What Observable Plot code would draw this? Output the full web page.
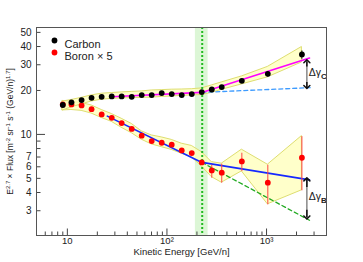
<!DOCTYPE html>
<html>
<head>
<meta charset="utf-8">
<script src="https://cdn.jsdelivr.net/npm/d3@7"></script>
<script src="https://cdn.jsdelivr.net/npm/@observablehq/plot@0.6"></script>
<style>
  html, body { margin: 0; padding: 0; background: #fff; }
  #chart svg { display: block; }
</style>
</head>
<body>
<div id="chart"></div>
<script>
// ---- data ----
const energy = [9.0, 11.0, 13.9, 17.5, 22.1, 27.9, 35.1, 44.3, 55.8, 70.3, 88.6, 111.7, 140.8, 177.5, 223.7, 282, 355, 565, 1030, 2265];
const carbon = [15.9, 16.6, 17.2, 17.8, 18.1, 18.2, 18.2, 18.1, 18.6, 18.6, 19.2, 18.9, 18.6, 18.9, 19.5, 20.3, 21.1, 23.3, 26.0, 35.3];
const carbonBandHi = [16.8, 17.2, 17.8, 18.5, 19.0, 19.2, 19.4, 19.55, 19.7, 20.0, 20.1, 20.25, 20.3, 20.4, 20.65, 21.65, 22.7, 24.95, 29.0, 39.7];
const carbonBandLo = [14.6, 15.3, 16.05, 16.8, 17.3, 17.5, 17.65, 17.7, 17.8, 17.85, 18.05, 18.2, 18.35, 18.5, 18.6, 19.25, 20.2, 22.0, 24.6, 31.1];
const boronX5 = [16.05, 16.05, 15.8, 14.9, 13.7, 13.0, 11.95, 10.9, 9.8, 9.0, 8.77, 8.5, 7.77, 7.45, 6.43, 5.67, 5.47, 6.53, 4.67, 6.92];
const boronBandHi = [16.96, 16.7, 16.4, 15.8, 14.7, 13.8, 12.8, 11.8, 10.5, 9.84, 9.54, 9.17, 8.64, 8.34, 7.56, 6.46, 6.30, 7.86, 6.20, 9.74];
const boronBandLo = [14.6, 14.7, 14.5, 13.9, 12.97, 12.2, 11.1, 10.2, 9.2, 8.54, 8.18, 7.83, 7.38, 6.96, 6.04, 5.10, 4.67, 5.58, 3.32, 4.14];

const carbonErrEnergy = [1030, 2265];
const carbonErrLo = [24.9, 33.0];
const carbonErrHi = [27.1, 37.6];
const boronErrEnergy = [282, 355, 565, 1030, 2265];
const boronErrLo = [5.05, 4.67, 5.61, 3.32, 4.14];
const boronErrHi = [6.20, 6.30, 7.49, 6.20, 9.73];

const fitCarbonE = [27.9, 224, 2700];
const fitCarbonY = [18.1, 19.4, 33.4];
const extCarbonE = [224, 2740];
const extCarbonY = [19.4, 20.9];
const fitBoronE = [25.2, 224, 2700];
const fitBoronY = [13.35, 6.43, 4.88];
const extBoronE = [224, 2700];
const extBoronY = [6.43, 2.58];

const breakEnergy = 226;
const breakBand = [193, 259];

const deltaE = 2540;
const deltaC = [31.7, 21.1];
const deltaB = [4.92, 2.70];

const yLabelTicks = [3, 4, 5, 6, 7, 10, 20, 30, 40, 50];
const yMinorTicks = [3, 4, 5, 6, 7, 8, 9, 20, 30, 40, 50];
const yMajorTicks = [10];
const xMajorTicks = [10, 100, 1000];
const xMinorTicks = [6, 7, 8, 9, 20, 30, 40, 50, 60, 70, 80, 90, 200, 300, 400, 500, 600, 700, 800, 900, 2000, 3000];
const xTickText = ["10", "10²", "10³"];
const legendNames = ["Carbon", "Boron × 5"];
const legendColors = ["#000000", "#ff0000"];
const yTitleParts = [["E", 0], ["2.7", 1], [" × Flux [m", 0], ["-2", 1], [" sr", 0], ["-1", 1], [" s", 0], ["-1", 1], [" (GeV/n)", 0], ["1.7", 1], ["]", 0]];
const xTitle = "Kinetic Energy [GeV/n]";

// ---- tables ----
const pts = energy.map((e, i) => ({e, c: carbon[i], b: boronX5[i], cLo: carbonBandLo[i], cHi: carbonBandHi[i], bLo: boronBandLo[i], bHi: boronBandHi[i]}));
const cErr = carbonErrEnergy.map((e, i) => ({e, lo: carbonErrLo[i], hi: carbonErrHi[i]}));
const bErr = boronErrEnergy.map((e, i) => ({e, lo: boronErrLo[i], hi: boronErrHi[i]}));
const toLine = (xs, ys) => xs.map((x, i) => ({x, y: ys[i]}));
const arrows = [{x: deltaE, y1: deltaC[0], y2: deltaC[1], label: "C"}, {x: deltaE, y1: deltaB[0], y2: deltaB[1], label: "B"}];
// short black segments at each end of the double arrows, carrying the heads
const heads = arrows.flatMap(a => [
  {x: a.x, from: a.y1 * Math.pow(a.y2 / a.y1, 0.2), to: a.y1},
  {x: a.x, from: a.y2 * Math.pow(a.y1 / a.y2, 0.2), to: a.y2}
]);
const xTicksT = xMajorTicks.map((v, i) => ({v, t: xTickText[i]}));
const yTitle = yTitleParts.map(p => p[0]).join("");

const W = 363, H = 262;
const mL = 36, mR = 37, mT = 27, mB = 27;
const pw = W - mL - mR, ph = H - mT - mB;
const font = "Liberation Sans, Arial, Helvetica, sans-serif";

const legendMarks = legendNames.flatMap((n, i) => [
  Plot.dot([n], {x: null, y: null, frameAnchor: "top-left", dx: 18, dy: 13 + 12 * i, r: 2.9, fill: legendColors[i]}),
  Plot.text([n], {frameAnchor: "top-left", dx: 28, dy: 13 + 12 * i, text: d => d, textAnchor: "start", fontSize: 11, fill: "#222"})
]);

const chart = Plot.plot({
  width: W, height: H,
  marginLeft: mL, marginRight: mR, marginTop: mT, marginBottom: mB,
  style: {fontFamily: font, fontSize: "10px", color: "#222", background: "#fff"},
  x: {type: "log", domain: [4.9, 4000], axis: null},
  y: {type: "log", domain: [2.03, 54], axis: null},
  marks: [
    Plot.rect([breakBand], {x1: d => d[0], x2: d => d[1], fill: "#cdf2c4", fillOpacity: 0.7}),
    Plot.areaY(pts, {x: "e", y1: "bLo", y2: "bHi", fill: "#ffffb8", fillOpacity: 0.75, stroke: "#dede70", strokeWidth: 1}),
    Plot.areaY(pts, {x: "e", y1: "cLo", y2: "cHi", fill: "#ffffb8", fillOpacity: 0.75, stroke: "#dede70", strokeWidth: 1}),
    Plot.ruleX([breakEnergy], {x: d => d, stroke: "#22bb22", strokeWidth: 2, strokeDasharray: "2,2"}),
    Plot.line(toLine(extCarbonE, extCarbonY), {x: "x", y: "y", stroke: "#3d9bff", strokeWidth: 1.3, strokeDasharray: "4,3"}),
    Plot.line(toLine(extBoronE, extBoronY), {x: "x", y: "y", stroke: "#22aa22", strokeWidth: 1.3, strokeDasharray: "4,3"}),
    Plot.line(toLine(fitCarbonE, fitCarbonY), {x: "x", y: "y", stroke: "#ff00ff", strokeWidth: 1.6}),
    Plot.line(toLine(fitBoronE, fitBoronY), {x: "x", y: "y", stroke: "#1428ff", strokeWidth: 1.6}),
    Plot.link(bErr, {x1: "e", x2: "e", y1: "lo", y2: "hi", stroke: "#ff4444", strokeWidth: 1}),
    Plot.link(cErr, {x1: "e", x2: "e", y1: "lo", y2: "hi", stroke: "#000", strokeWidth: 1}),
    Plot.dot(pts, {x: "e", y: "b", r: 2.9, fill: "#ff0000"}),
    Plot.dot(pts, {x: "e", y: "c", r: 2.9, fill: "#000"}),
    Plot.link(arrows, {x1: "x", x2: "x", y1: "y1", y2: "y2", stroke: "#888", strokeWidth: 1.5}),
    Plot.link(heads, {x1: "x", x2: "x", y1: "from", y2: "to", stroke: "#111", strokeWidth: 1.5, markerEnd: "arrow"}),
    Plot.text(arrows, {x: "x", y: d => Math.sqrt(d.y1 * d.y2), text: d => "Δγ" + d.label, textAnchor: "start", dx: 2, dy: -2, fontSize: 10.5, fill: "#222"}),
    ...legendMarks,
    // ticks (inside)
    Plot.ruleY(yMinorTicks, {y: d => d, insetRight: pw - 4.5, stroke: "#444"}),
    Plot.ruleY(yMajorTicks, {y: d => d, insetRight: pw - 9, stroke: "#444"}),
    Plot.ruleX(xMinorTicks, {x: d => d, insetTop: ph - 3.5, stroke: "#444"}),
    Plot.ruleX(xMajorTicks, {x: d => d, insetTop: ph - 6.5, stroke: "#444"}),
    // tick labels
    Plot.text(yLabelTicks, {y: d => d, frameAnchor: "left", dx: -5, textAnchor: "end", text: d => String(d), fontSize: 10, fill: "#222"}),
    Plot.text(xTicksT, {x: "v", frameAnchor: "bottom", dy: 8.5, text: "t", fontSize: 9.5, fill: "#222"}),
    // axis titles
    Plot.text([yTitle], {frameAnchor: "left", dx: -26, rotate: -90, textAnchor: "middle", text: d => d, fontSize: 8.5, fill: "#222"}),
    Plot.text([xTitle], {frameAnchor: "bottom", dy: 19, textAnchor: "middle", text: d => d, fontSize: 9.5, fill: "#222"}),
    Plot.frame({stroke: "#555"})
  ]
});
document.getElementById("chart").appendChild(chart);

// rich text: superscripts in y title, subscripts in delta-gamma labels
d3.select(chart).selectAll("text").each(function () {
  const el = d3.select(this);
  const s = this.textContent;
  if (s === yTitle) {
    el.text(null);
    let prevSup = 0;
    yTitleParts.forEach(([t, sup]) => {
      const ts = el.append("tspan").text(t);
      if (sup) ts.attr("font-size", 6);
      if (sup && !prevSup) ts.attr("dy", "-3.5");
      else if (!sup && prevSup) ts.attr("dy", "3.5");
      prevSup = sup;
    });
  } else if (s.startsWith("Δγ") && s.length === 3) {
    el.text(null);
    el.append("tspan").text("Δγ");
    el.append("tspan").text(s.slice(2)).attr("dy", "3").attr("font-size", 8).attr("font-weight", "bold");
  }
});
</script>
</body>
</html>
